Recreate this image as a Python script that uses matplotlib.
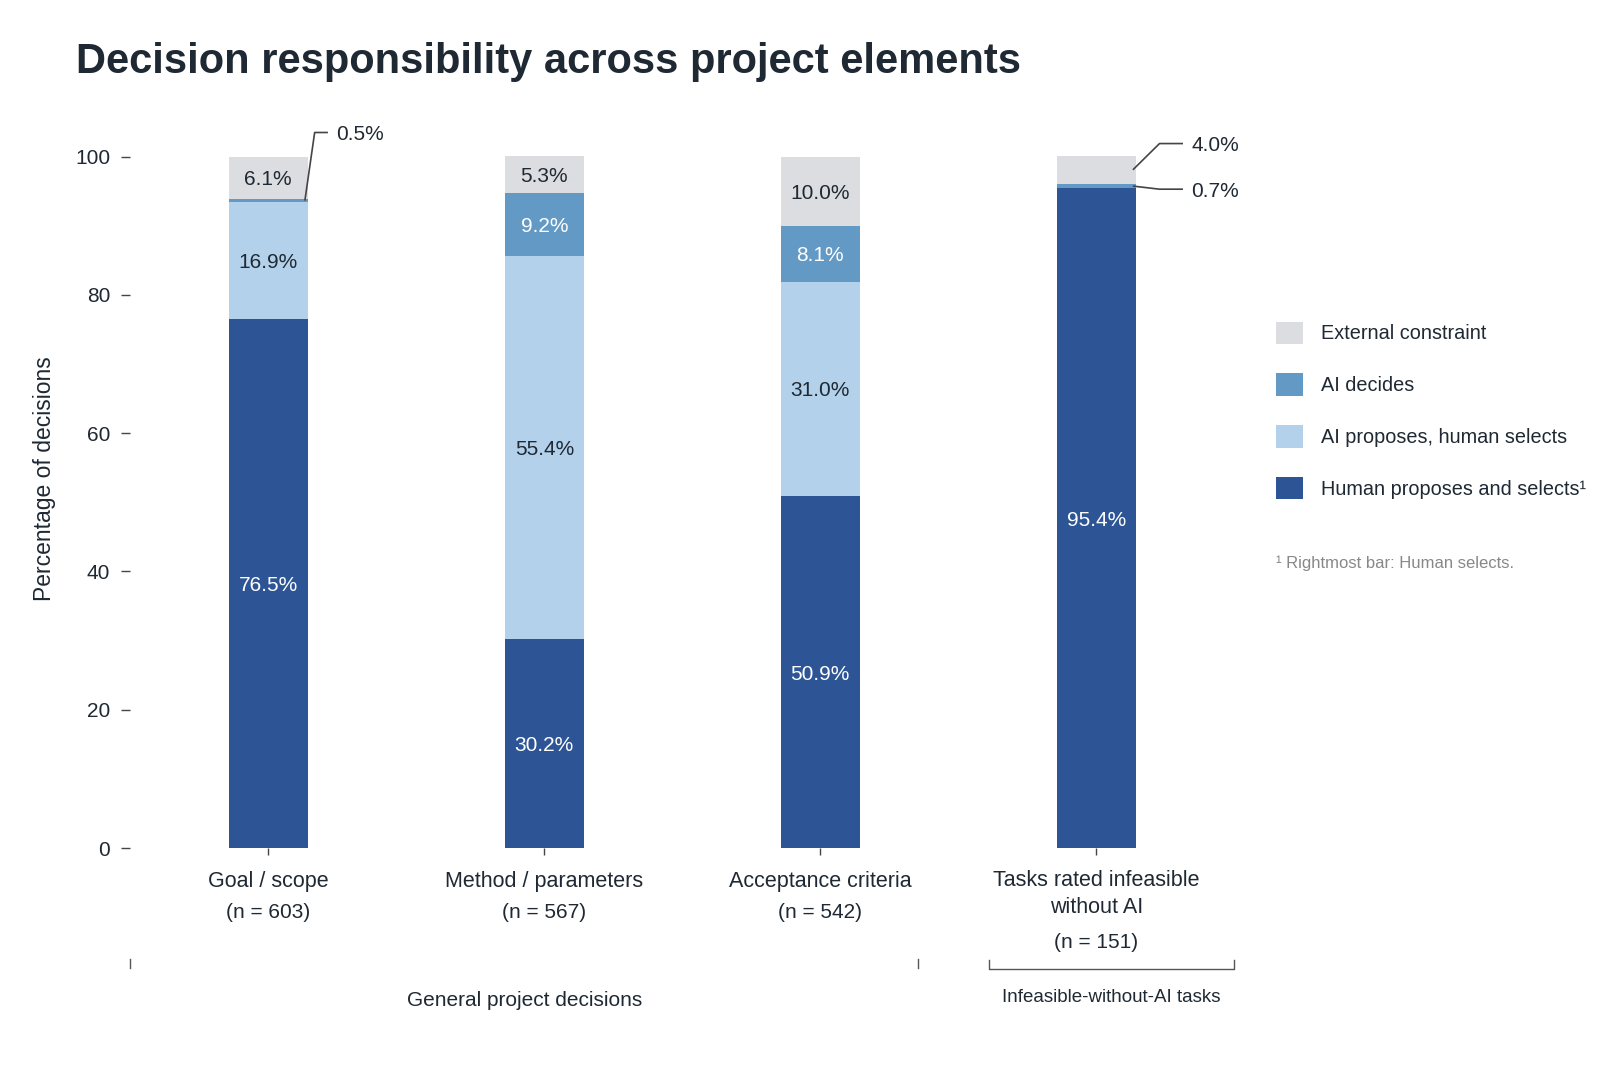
import matplotlib
matplotlib.use("Agg")
import matplotlib.pyplot as plt
import numpy as np

plt.rcParams['font.family'] = ['Liberation Sans', 'DejaVu Sans']

# ---- data ----
categories = ["Goal / scope", "Method / parameters", "Acceptance criteria",
              "Tasks rated infeasible\nwithout AI"]
n_values = [603, 567, 542, 151]
human = [76.5, 30.2, 50.9, 95.4]
ai_proposes = [16.9, 55.4, 31.0, 0.0]
ai_decides = [0.5, 9.2, 8.1, 0.7]
external = [6.1, 5.3, 10.0, 4.0]
series_names = ["Human proposes and selects\u00b9", "AI proposes, human selects",
                "AI decides", "External constraint"]
groups = ["General project decisions", "Infeasible-without-AI tasks"]
footnote = "\u00b9 Rightmost bar: Human selects."
yticks = [0, 20, 40, 60, 80, 100]

colors = ["#2d5596", "#b3d1ea", "#6399c5", "#dcdde0"]
label_colors = ["white", "#1f2933", "white", "#1f2933"]
text_color = "#1f2933"

fig = plt.figure(figsize=(16, 10.67), dpi=100)
W, H = 1600, 1067
ax_left, ax_right = 130.3, 1234.3
ax_bottom, ax_top = 848.0, 108.3
ax = fig.add_axes([ax_left / W, 1 - ax_bottom / H,
                   (ax_right - ax_left) / W, (ax_bottom - ax_top) / H])

x = np.arange(len(categories))
bw = 0.285
series = [human, ai_proposes, ai_decides, external]
bottom = np.zeros(len(categories))
handles = []
for vals, col, lc, name in zip(series, colors, label_colors, series_names):
    vals = np.array(vals)
    bars = ax.bar(x, vals, bw, bottom=bottom, color=col, label=name,
                  linewidth=0)
    handles.append(bars)
    for xi, v, b in zip(x, vals, bottom):
        if v >= 5:
            ax.text(xi, b + v / 2, f"{v:.1f}%", ha="center",
                    va="center_baseline", fontsize=15, color=lc)
    bottom = bottom + vals

# small-segment callouts
cum_before_dec = np.array(human) + np.array(ai_proposes)
def callout(xi, ymid, ylab, elbow_dx, end_dx, text):
    x0 = xi + bw / 2 - 0.01
    ax.plot([x0, xi + elbow_dx, xi + end_dx], [ymid, ylab, ylab],
            color="#444444", lw=1.2, clip_on=False, solid_capstyle="butt")
    ax.text(xi + end_dx + 0.03, ylab, text, ha="left", va="center_baseline",
            fontsize=15, color=text_color, clip_on=False)

callout(0, cum_before_dec[0] + ai_decides[0] / 2, 103.5, 0.168, 0.216,
        f"{ai_decides[0]:.1f}%")
callout(3, cum_before_dec[3] + ai_decides[3] + external[3] / 2, 101.9, 0.229, 0.314,
        f"{external[3]:.1f}%")
callout(3, cum_before_dec[3] + ai_decides[3] / 2, 95.3, 0.229, 0.314,
        f"{ai_decides[3]:.1f}%")

ax.set_xlim(-0.5, 3.5)
ax.set_ylim(0, 107)
for s in ax.spines.values():
    s.set_visible(False)

ax.set_yticks(yticks)
ax.set_yticklabels([str(t) for t in yticks], fontsize=15, color=text_color)
ax.tick_params(axis="y", length=6.5, width=1, color="#444444", pad=8)
ax.set_xticks(x)
ax.set_xticklabels([])
ax.tick_params(axis="x", length=5, width=1, color="#444444", pad=0)
ax.set_ylabel("Percentage of decisions", fontsize=16.5, color=text_color,
              labelpad=14)

tr = ax.get_xaxis_transform()
ah = ax_bottom - ax_top
def fy(py):
    return (ax_bottom - py) / ah

for xi, cat, n in zip(x, categories, n_values):
    two = "\n" in cat
    ax.text(xi, fy(894 if two else 881), cat, transform=tr, ha="center",
            va="center", fontsize=15.5, color=text_color, linespacing=1.32)
    ax.text(xi, fy(943 if two else 913), f"(n = {n})", transform=tr,
            ha="center", va="center", fontsize=15, color=text_color)

# group brackets
bc = "#555555"
g1 = (-0.5, 2.354)
g2 = (2.611, 3.499)
for gx in g1:
    ax.plot([gx, gx], [fy(959), fy(968)], transform=tr, color=bc, lw=1,
            clip_on=False)
ax.plot([g2[0], g2[0], g2[1], g2[1]], [fy(960), fy(969), fy(969), fy(960)],
        transform=tr, color=bc, lw=1, clip_on=False)
ax.text(np.mean(g1), fy(1000), groups[0], transform=tr, ha="center",
        va="center", fontsize=15, color=text_color)
ax.text(np.mean(g2), fy(997), groups[1], transform=tr, ha="center",
        va="center", fontsize=13.5, color=text_color)

# legend
leg = fig.legend(handles=handles[::-1], labels=series_names[::-1],
                 loc="upper left", bbox_to_anchor=(1276 / W, 1 - 321.5 / H),
                 frameon=False, fontsize=14.3, handlelength=1.36,
                 handleheight=1.36, labelspacing=1.48, handletextpad=0.93,
                 borderpad=0, borderaxespad=0)
for t in leg.get_texts():
    t.set_color(text_color)

fig.text(1276 / W, 1 - 563.5 / H, footnote, ha="left", va="center",
         fontsize=12, color="#888888")

fig.text(76 / W, 1 - 62 / H, "Decision responsibility across project elements",
         ha="left", va="center", fontsize=30, fontweight="bold", color="#1f2933")

fig.savefig("out.png", dpi=100)
